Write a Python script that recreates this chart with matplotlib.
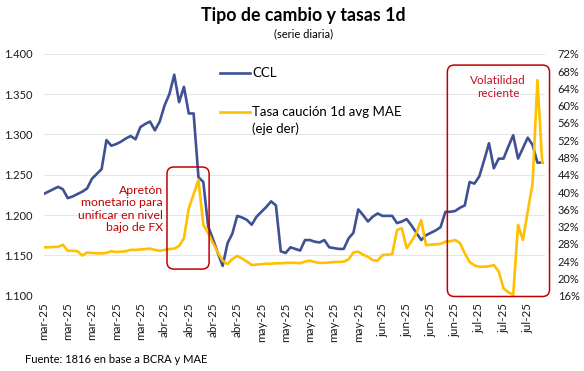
import matplotlib
matplotlib.use("Agg")
import matplotlib.pyplot as plt
from matplotlib.patches import FancyBboxPatch
from matplotlib.transforms import IdentityTransform
import numpy as np

plt.rcParams['font.family'] = ['Lato', 'DejaVu Sans']

# CCL (left axis), one value per trading day
ccl = [1.226, 1.229, 1.232, 1.235, 1.232, 1.221, 1.223, 1.226, 1.229, 1.233,
       1.245, 1.251, 1.257, 1.293, 1.286, 1.288, 1.291, 1.295, 1.298, 1.294,
       1.309, 1.313, 1.316, 1.305, 1.316, 1.336, 1.350, 1.374, 1.340, 1.359,
       1.326, 1.326, 1.247, 1.241, 1.186, 1.170, 1.153, 1.137, 1.165, 1.177,
       1.199, 1.197, 1.194, 1.188, 1.198, 1.204, 1.210, 1.217, 1.212, 1.155,
       1.153, 1.160, 1.158, 1.156, 1.169, 1.169, 1.167, 1.166, 1.169, 1.160,
       1.159, 1.158, 1.158, 1.171, 1.178, 1.207, 1.200, 1.192, 1.198, 1.202,
       1.199, 1.199, 1.199, 1.190, 1.192, 1.195, 1.187, 1.178, 1.169, 1.175,
       1.178, 1.181, 1.185, 1.204, 1.204, 1.205, 1.209, 1.212, 1.241, 1.239,
       1.248, 1.268, 1.289, 1.258, 1.270, 1.270, 1.285, 1.299, 1.270, 1.283,
       1.296, 1.287, 1.265, 1.265]

# tasa caucion 1d avg MAE, % (right axis)
tasa = [27.2, 27.2, 27.3, 27.3, 27.8, 26.4, 26.4, 26.3, 25.3, 26.0,
        25.9, 25.8, 25.8, 25.9, 26.3, 26.1, 26.2, 26.3, 26.6, 26.6,
        26.7, 26.8, 26.9, 26.6, 26.4, 26.6, 26.8, 26.9, 27.5, 29.3,
        36.2, 39.5, 42.8, 32.4, 30.5, 28.2, 26.0, 24.1, 23.3, 24.5,
        25.2, 24.6, 23.9, 23.1, 23.2, 23.3, 23.4, 23.4, 23.5, 23.5,
        23.6, 23.6, 23.6, 23.5, 23.9, 24.1, 23.8, 23.6, 23.6, 23.7,
        23.8, 23.8, 23.9, 24.4, 26.0, 26.2, 25.5, 25.0, 24.2, 24.1,
        25.4, 25.5, 25.6, 31.2, 31.6, 27.0, 28.6, 30.5, 33.5, 27.7,
        27.8, 27.9, 28.0, 28.5, 28.6, 28.9, 28.2, 25.8, 23.8, 23.0,
        22.7, 22.7, 22.8, 23.1, 21.6, 17.7, 16.8, 16.2, 32.4, 28.9,
        35.5, 42.0, 65.9, 46.8]

tick_labels = (['mar-25'] * 5 + ['abr-25'] * 4 + ['may-25'] * 5 +
               ['jun-25'] * 4 + ['jul-25'] * 3)

blue = '#3F5194'
gold = '#FFC000'
red = '#C00000'

x = np.arange(len(ccl))

fig = plt.figure(figsize=(5.84, 3.71), dpi=100)
ax = fig.add_axes([0.0745, 0.203, 0.859, 0.652])
ax2 = ax.twinx()

ax.plot(x, ccl, color=blue, lw=1.9, zorder=3)
ax2.plot(x, tasa, color=gold, lw=1.9, zorder=3)

ax.set_xlim(0, 103.6)
ax.set_ylim(1.1, 1.4)
ax.set_yticks(np.arange(1.1, 1.401, 0.05))
ax.set_yticklabels([f"{v:.3f}" for v in np.arange(1.1, 1.401, 0.05)])
ax2.set_ylim(16, 72)
ax2.set_yticks(np.arange(16, 73, 4))
ax2.set_yticklabels([f"{int(v)}%" for v in np.arange(16, 73, 4)])

ax.set_xticks(np.arange(0, len(ccl), 5))
ax.set_xticklabels(tick_labels, rotation=90)

ax.grid(axis='y', color='#E6E6E6', lw=0.8)
ax.set_axisbelow(True)
for a in (ax, ax2):
    for s in a.spines.values():
        s.set_visible(False)
ax.tick_params(axis='both', length=0, labelsize=8, colors='#1A1A1A')
ax.tick_params(axis='x', pad=5, labelsize=8.4)
ax.tick_params(axis='y', pad=8)
ax2.tick_params(axis='y', length=0, labelsize=8, colors='#1A1A1A', pad=9)

# legend drawn by hand to mimic the original layout
ax.plot([0.352, 0.412], [0.920, 0.920], color=blue, lw=1.9, transform=ax.transAxes)
ax.text(0.416, 0.920, 'CCL', transform=ax.transAxes, va='center', fontsize=9.5)
ax.plot([0.352, 0.412], [0.759, 0.759], color=gold, lw=1.9, transform=ax.transAxes)
ax.text(0.416, 0.759, 'Tasa caución 1d avg MAE', transform=ax.transAxes,
        va='center', fontsize=9.5)
ax.text(0.416, 0.689, '(eje der)', transform=ax.transAxes, va='center', fontsize=9.5)

# rounded highlight boxes
def box(x0, x1, y0, y1):
    p0 = ax.transData.transform((x0, y0))
    p1 = ax.transData.transform((x1, y1))
    patch = FancyBboxPatch((p0[0], p0[1]), p1[0] - p0[0], p1[1] - p0[1],
                           boxstyle='round,pad=0,rounding_size=7',
                           transform=IdentityTransform(), fill=False,
                           ec=red, lw=1.1, zorder=5)
    fig.patches.append(patch)

box(25.5, 34.2, 1.133, 1.2596)
box(83.4, 104.5, 1.099, 1.386)

ax.text(24.7, 1.2075, 'Apretón\nmonetario para\nunificar en nivel\nbajo de FX',
        ha='right', va='center', color=red, fontsize=8.8, linespacing=1.15)
ax.text(93.9, 1.3587, 'Volatilidad\nreciente', ha='center', va='center',
        color='#C0102A', fontsize=8.5, linespacing=1.2)

fig.text(0.52, 0.958, 'Tipo de cambio y tasas 1d', ha='center', va='center',
         fontsize=12.8, fontweight='bold')
fig.text(0.52, 0.908, '(serie diaria)', ha='center', va='center', fontsize=8)
fig.text(0.043, 0.032, 'Fuente: 1816 en base a BCRA y MAE', ha='left',
         va='center', fontsize=8)

fig.savefig('out.png', dpi=100)
